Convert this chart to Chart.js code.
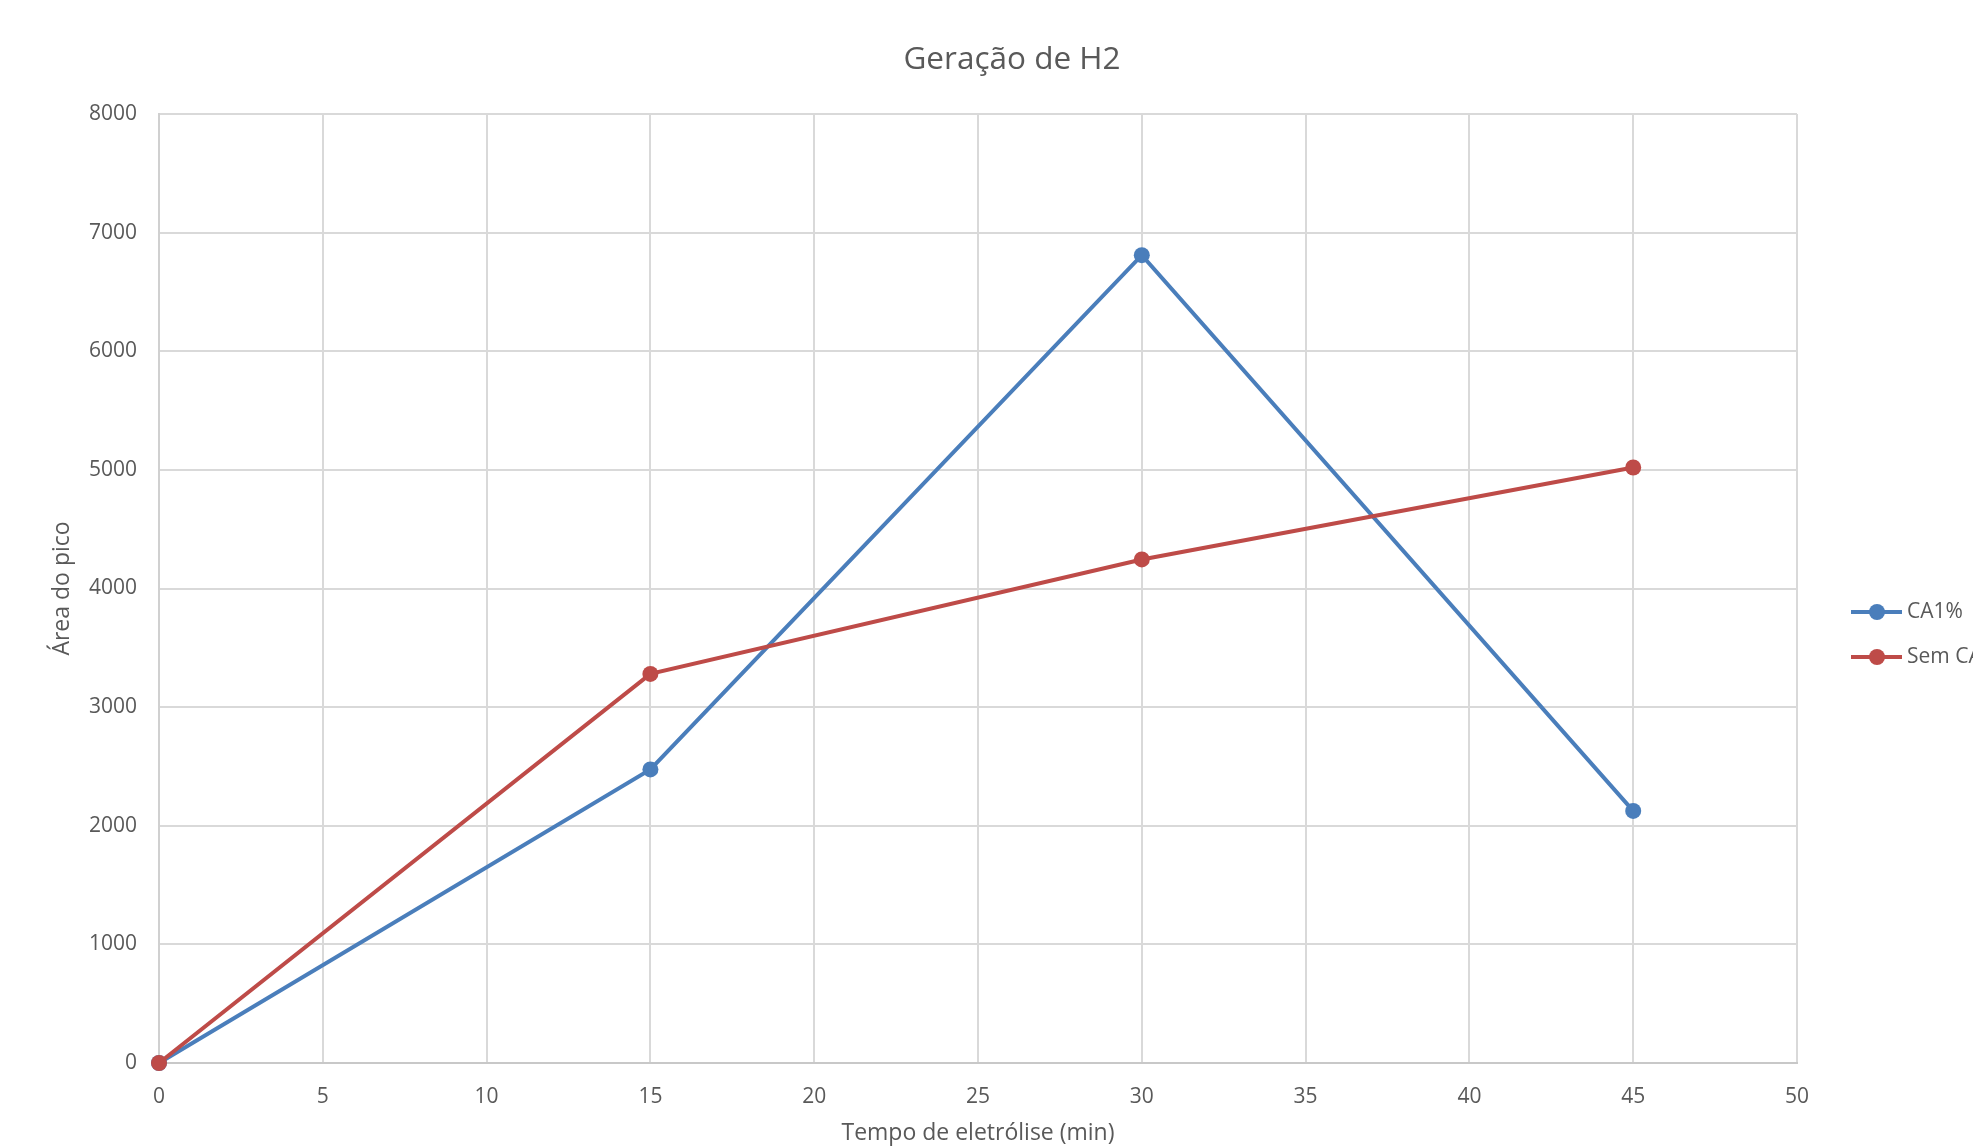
<!DOCTYPE html>
<html>
<head>
<meta charset="utf-8">
<script src="https://cdn.jsdelivr.net/npm/chart.js@4/dist/chart.umd.min.js"></script>
<style>
    html, body { margin: 0; padding: 0; background: #fff; overflow: hidden; }
</style>
</head>
<body>
<canvas id="chart" width="1973" height="1146"></canvas>
<script>
// dados
const tempos = [0, 15, 30, 45];
const ca1 = [0, 2475, 6810, 2125];
const semCA = [0, 3280, 4245, 5020];
const rotulos = ['CA1%', 'Sem CA'];
const titulo = 'Geração de H2';

const azul = '#4A7EBB';
const vermelho = '#BE4B48';
const cinzaTexto = '#595959';
const fonte = "'Open Sans', 'Liberation Sans', sans-serif";

function pontos(valores) {
    return tempos.map((t, i) => ({ x: t, y: valores[i] }));
}

// título e legenda desenhados como no Excel (título deslocado, legenda cortada na borda)
const decoracaoExcel = {
    id: 'decoracaoExcel',
    afterDraw(chart) {
        const ctx = chart.ctx;
        ctx.save();
        ctx.fillStyle = cinzaTexto;
        ctx.font = `31.5px ${fonte}`;
        ctx.textAlign = 'center';
        ctx.textBaseline = 'middle';
        ctx.fillText(titulo, 1012, 60);

        chart.data.datasets.forEach((ds, i) => {
            const y = 612 + i * 45;
            ctx.strokeStyle = ds.borderColor;
            ctx.lineWidth = 4;
            ctx.beginPath();
            ctx.moveTo(1851, y);
            ctx.lineTo(1902, y);
            ctx.stroke();
            ctx.fillStyle = ds.borderColor;
            ctx.beginPath();
            ctx.arc(1877, y, 8, 0, Math.PI * 2);
            ctx.fill();
            ctx.fillStyle = cinzaTexto;
            ctx.font = `21px ${fonte}`;
            ctx.textBaseline = 'middle';
            ctx.textAlign = 'left';
            ctx.fillText(ds.label, 1907, y);
        });
        ctx.restore();
    }
};

new Chart(document.getElementById('chart'), {
    type: 'line',
    data: {
        datasets: [
            {
                label: rotulos[0],
                data: pontos(ca1),
                borderColor: azul,
                backgroundColor: azul,
                borderWidth: 4,
                pointRadius: 8,
                pointBorderWidth: 0,
                pointBackgroundColor: azul,
                tension: 0,
                clip: false,
                order: 1
            },
            {
                label: rotulos[1],
                data: pontos(semCA),
                borderColor: vermelho,
                backgroundColor: vermelho,
                borderWidth: 4,
                pointRadius: 8,
                pointBorderWidth: 0,
                pointBackgroundColor: vermelho,
                tension: 0,
                clip: false,
                order: 0
            }
        ]
    },
    options: {
        responsive: false,
        animation: false,
        layout: { padding: { left: 0, right: 176, top: 114, bottom: 0 } },
        plugins: {
            legend: { display: false },
            tooltip: { enabled: false },
            title: { display: false }
        },
        scales: {
            x: {
                type: 'linear',
                min: 0,
                max: 50,
                ticks: { stepSize: 5, color: cinzaTexto, padding: 21, font: { family: fonte, size: 21 } },
                grid: { color: '#D9D9D9', lineWidth: 2, drawTicks: false },
                border: { color: '#C8C8C8', width: 2 },
                title: {
                    display: true,
                    text: 'Tempo de eletrólise (min)',
                    color: cinzaTexto,
                    font: { family: fonte, size: 23, lineHeight: 1.0 },
                    padding: { top: 0, bottom: 1 }
                },
                afterFit(scale) { scale.height = 83; }
            },
            y: {
                min: 0,
                max: 8000,
                ticks: {
                    stepSize: 1000,
                    color: cinzaTexto,
                    padding: 22,
                    font: { family: fonte, size: 21 },
                    callback: v => String(v)
                },
                grid: { color: '#D9D9D9', lineWidth: 2, drawTicks: false },
                border: { color: '#D0D0D0', width: 2 },
                title: {
                    display: true,
                    text: 'Área do pico',
                    color: cinzaTexto,
                    font: { family: fonte, size: 23, lineHeight: 1.2 },
                    padding: { top: 49, bottom: 0 }
                },
                afterFit(scale) { scale.width = 159; }
            }
        }
    },
    plugins: [decoracaoExcel]
});
</script>
</body>
</html>
